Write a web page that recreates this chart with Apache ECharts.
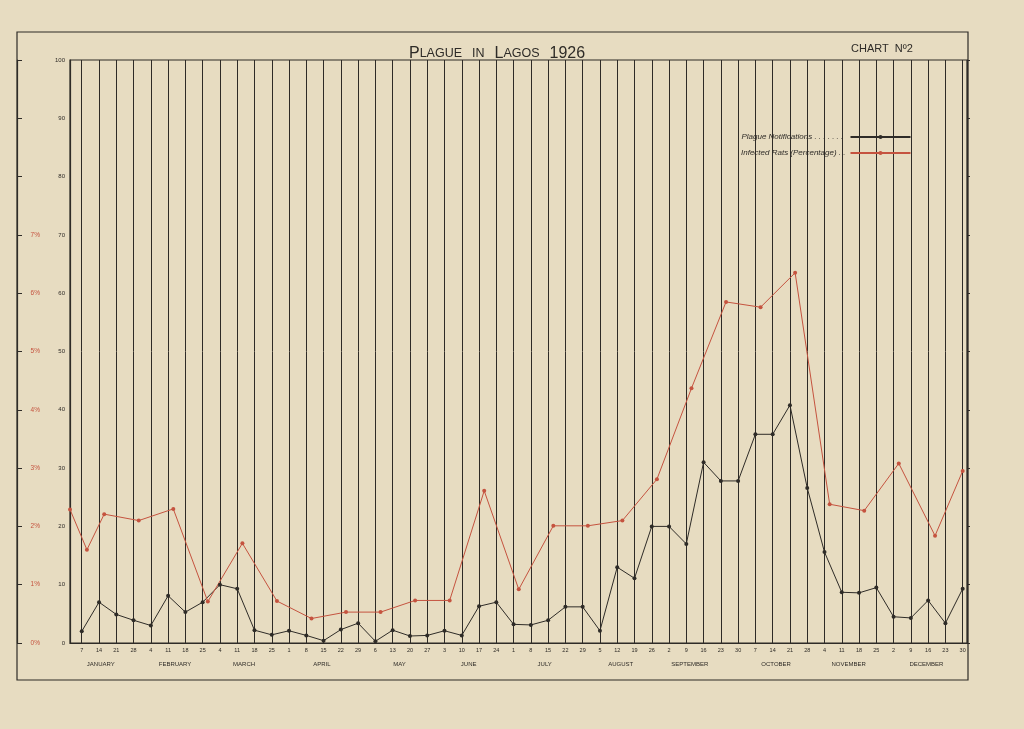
<!DOCTYPE html>
<html>
<head>
<meta charset="utf-8">
<style>
    html, body { margin: 0; padding: 0; background: #e7dcc1; }
    #chart { width: 1024px; height: 729px; }
</style>
<script src="https://cdn.jsdelivr.net/npm/echarts@6/dist/echarts.min.js"></script>
</head>
<body>
<div id="chart"></div>
<script>
// weekly plague notifications, one value per week (Jan 7 ... Dec 30)
var weekDays = [7, 14, 21, 28, 4, 11, 18, 25, 4, 11, 18, 25, 1, 8, 15, 22, 29, 6, 13, 20, 27, 3, 10, 17, 24,
    1, 8, 15, 22, 29, 5, 12, 19, 26, 2, 9, 16, 23, 30, 7, 14, 21, 28, 4, 11, 18, 25, 2, 9, 16, 23, 30];
var plagueValues = [2, 7, 4.9, 3.9, 3, 8.1, 5.3, 7, 10, 9.3, 2.2, 1.4, 2.1, 1.3, 0.4, 2.3, 3.4, 0.3, 2.2, 1.2,
    1.3, 2.1, 1.3, 6.3, 7, 3.2, 3.1, 3.9, 6.2, 6.2, 2.1, 13, 11.1, 20, 20, 17, 31, 27.8, 27.8, 35.8, 35.8,
    40.8, 26.6, 15.6, 8.7, 8.6, 9.5, 4.5, 4.3, 7.3, 3.4, 9.3];

// infected rats (percentage x10), plotted at fortnightly positions (week index)
var ratWeeks = [0.32, 1.3, 2.3, 4.3, 6.3, 8.3, 10.3, 12.3, 14.3, 16.3, 18.3, 20.3, 22.3, 24.3, 26.3, 28.3,
    30.3, 32.3, 34.3, 36.3, 38.3, 40.3, 42.3, 44.3, 46.3, 48.3, 50.4, 52];
var ratValues = [22.9, 16, 22.1, 21, 23, 7.1, 17.1, 7.2, 4.2, 5.3, 5.3, 7.3, 7.3, 26.1, 9.2, 20.1,
    20.1, 21, 28.1, 43.7, 58.5, 57.6, 63.5, 23.8, 22.7, 30.8, 18.4, 29.5];

var monthNames = ['JANUARY', 'FEBRUARY', 'MARCH', 'APRIL', 'MAY', 'JUNE', 'JULY', 'AUGUST',
    'SEPTEMBER', 'OCTOBER', 'NOVEMBER', 'DECEMBER'];
var monthPos = [2.1, 6.4, 10.4, 14.9, 19.4, 23.4, 27.8, 32.2, 36.2, 41.2, 45.4, 49.9];

var pctLabels = ['0%', '1%', '2%', '3%', '4%', '5%', '6%', '7%'];

var weekIdx = weekDays.map(function (d, i) { return i + 1; });
var plagueData = plagueValues.map(function (v, i) { return [weekIdx[i], v]; });
var ratData = ratValues.map(function (v, i) { return [ratWeeks[i], v]; });

var ink = '#2e2b27';
var red = '#c5533f';
var font = 'Liberation Sans';

var chart = echarts.init(document.getElementById('chart'));
var option = {
    backgroundColor: '#e7dcc1',
    animation: false,
    textStyle: { fontFamily: font },
    title: [{
        text: '{b|P}{s|LAGUE}  {s|IN}  {b|L}{s|AGOS}  {b|1926}',
        left: 404,
        top: 40,
        textStyle: {
            fontWeight: 'normal',
            rich: {
                b: { fontSize: 16, color: ink, fontFamily: font, fontWeight: 'normal' },
                s: { fontSize: 12.5, color: ink, fontFamily: font, fontWeight: 'normal' }
            }
        }
    }, {
        text: 'CHART  N\u00BA2',
        left: 846,
        top: 38,
        textStyle: { fontSize: 11, fontWeight: 'normal', color: ink, fontFamily: font }
    }],
    legend: {
        orient: 'vertical',
        left: 736,
        top: 128,
        align: 'right',
        itemWidth: 60,
        itemHeight: 5,
        itemGap: 8,
        formatter: function (name) {
            return name + ' . . . . . . . . . . . . . .';
        },
        textStyle: {
            fontSize: 8,
            fontStyle: 'italic',
            color: ink,
            width: 106,
            overflow: 'truncate',
            ellipsis: ''
        },
        data: ['Plague Notifications', 'Infected Rats (Percentage)']
    },
    graphic: [{
        type: 'rect',
        shape: { x: 17, y: 32, width: 951, height: 648 },
        style: { fill: 'none', stroke: ink, lineWidth: 1.2 },
        silent: true
    }],
    grid: {
        left: 70,
        right: 57,
        top: 60,
        bottom: 86,
        show: true,
        borderColor: ink,
        borderWidth: 1.2
    },
    xAxis: [{
        type: 'value',
        min: 0.32,
        max: 52.25,
        axisLine: { show: true, lineStyle: { color: ink, width: 1.2 } },
        axisTick: { show: false, customValues: weekIdx },
        splitLine: { show: true, lineStyle: { color: ink, width: 1 } },
        axisLabel: {
            customValues: weekIdx,
            fontSize: 5.5,
            color: ink,
            margin: 4,
            formatter: function (v) { return weekDays[Math.round(v) - 1]; }
        }
    }, {
        type: 'value',
        position: 'bottom',
        offset: 10,
        min: 0.32,
        max: 52.25,
        axisLine: { show: false },
        axisTick: { show: false, customValues: monthPos },
        splitLine: { show: false },
        axisLabel: {
            customValues: monthPos,
            fontSize: 6,
            color: ink,
            formatter: function (v) { return monthNames[monthPos.indexOf(v)] || ''; }
        }
    }],
    yAxis: [{
        type: 'value',
        min: 0,
        max: 100,
        interval: 10,
        axisLine: { show: true, lineStyle: { color: ink, width: 1.2 } },
        axisTick: { show: false },
        splitLine: { show: false },
        axisLabel: { fontSize: 6, color: ink, margin: 5 }
    }, {
        type: 'value',
        position: 'left',
        offset: 30,
        min: 0,
        max: 100,
        interval: 10,
        axisLine: { show: false },
        axisTick: { show: false },
        splitLine: { show: false },
        axisLabel: {
            fontSize: 6.5,
            color: red,
            margin: 0,
            formatter: function (v) { return pctLabels[v / 10] || ''; }
        }
    }, {
        type: 'value',
        position: 'left',
        offset: 53,
        min: 0,
        max: 100,
        interval: 10,
        axisLine: { show: true, lineStyle: { color: ink, width: 1.2 } },
        axisTick: { show: true, inside: true, length: 5, lineStyle: { color: ink } },
        splitLine: { show: false },
        axisLabel: { show: false }
    }, {
        type: 'value',
        position: 'right',
        min: 0,
        max: 100,
        interval: 10,
        axisLine: { show: true, lineStyle: { color: ink, width: 1.2 } },
        axisTick: { show: true, length: 3, lineStyle: { color: ink } },
        splitLine: { show: false },
        axisLabel: { show: false }
    }],
    series: [{
        name: 'Plague Notifications',
        type: 'line',
        data: plagueData,
        symbol: 'circle',
        symbolSize: 4,
        lineStyle: { color: ink, width: 1 },
        itemStyle: { color: ink }
    }, {
        name: 'Infected Rats (Percentage)',
        type: 'line',
        data: ratData,
        symbol: 'circle',
        symbolSize: 4,
        lineStyle: { color: red, width: 1 },
        itemStyle: { color: red }
    }]
};
chart.setOption(option);
</script>
</body>
</html>
